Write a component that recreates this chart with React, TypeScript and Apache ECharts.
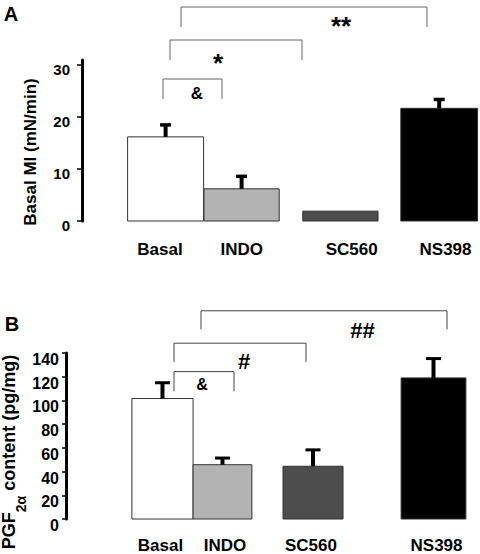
import React, { useEffect, useRef } from 'react';
import * as echarts from 'echarts';

// ---- data ----
const categories = ['Basal', 'INDO', 'SC560', 'NS398'];
const basalMI = [16.2, 6.2, 1.9, 21.7];
const basalMISem = [2.3, 2.4, 0, 1.7];
const pgfContent = [101.6, 45.8, 44.5, 119.0];
const pgfSem = [13.3, 5.6, 13.8, 16.3];
const ticksA = [0, 10, 20, 30];
const ticksB = [0, 20, 40, 60, 80, 100, 120, 140];
const sigLabelsA = ['**', '*', '&'];
const sigLabelsB = ['##', '#', '&'];

// ---- styles / layout ----
const FONT = '"Liberation Sans", Arial, Helvetica, sans-serif';
const barColors = ['#ffffff', '#b3b3b3', '#4d4d4d', '#000000'];

const layoutA = {
  grid: { left: 82, top: 60, width: 398, height: 161 },
  xMax: 5.237,
  yMax: 31,
  barX: [1.1, 2.1, 3.4, 4.7],
  barW: [1, 0.99, 0.99, 1.01],
  labelX: [1.026, 2.101, 3.549, 4.783],
  cap: { width: 11, stem: 4, thick: 3.5 },
  bracketColor: '#666',
  brackets: [
    { x1: 1.303, x2: 4.539, top: 41.2, bottom: 37.35, tx: 3.408, ty: 37.64, size: 26 },
    { x1: 1.158, x2: 2.895, top: 34.85, bottom: 31.0, tx: 1.79, ty: 30.5, size: 26 },
    { x1: 1.066, x2: 1.842, top: 27.34, bottom: 23.49, tx: 1.513, ty: 24.64, size: 17 },
  ],
};

const layoutB = {
  grid: { left: 66, top: 353, width: 414, height: 169 },
  xMax: 6.9,
  yMax: 140,
  barX: [1.608, 2.608, 4.117, 6.125],
  barW: [1.02, 0.98, 1.0, 1.08],
  labelX: [1.575, 2.65, 4.083, 6.175],
  cap: { width: 15, stem: 4, thick: 3 },
  bracketColor: '#444',
  brackets: [
    { x1: 2.25, x2: 6.35, top: 175.6, bottom: 159.9, tx: 4.942, ty: 159.1, size: 22 },
    { x1: 1.8, x2: 4.0, top: 148.3, bottom: 132.5, tx: 2.967, ty: 132.5, size: 22 },
    { x1: 1.8, x2: 2.8, top: 124.3, bottom: 107.7, tx: 2.267, ty: 113.5, size: 16 },
  ],
};

function nearestIndex(arr: number[], v: number) {
  let best = 0;
  for (let i = 1; i < arr.length; i++) {
    if (Math.abs(arr[i] - v) < Math.abs(arr[best] - v)) best = i;
  }
  return best;
}

function makeBarRender(layout: any) {
  return (params: any, api: any) => {
    const i = params.dataIndex;
    const x = api.value(0);
    const v = api.value(1);
    const e = api.value(2);
    const w = layout.barW[i];
    const tl = api.coord([x - w / 2, v]);
    const br = api.coord([x + w / 2, 0]);
    const children: any[] = [
      {
        type: 'rect',
        shape: { x: tl[0], y: tl[1], width: br[0] - tl[0], height: br[1] - tl[1] },
        style: { fill: barColors[i], stroke: '#333', lineWidth: 1 },
      },
    ];
    if (e > 0) {
      const top = api.coord([x, v + e]);
      children.push({
        type: 'line',
        shape: { x1: top[0], y1: tl[1], x2: top[0], y2: top[1] },
        style: { stroke: '#000', lineWidth: layout.cap.stem },
      });
      children.push({
        type: 'line',
        shape: {
          x1: top[0] - layout.cap.width / 2,
          y1: top[1],
          x2: top[0] + layout.cap.width / 2,
          y2: top[1],
        },
        style: { stroke: '#000', lineWidth: layout.cap.thick },
      });
    }
    return { type: 'group', children };
  };
}

function makeBracketRender(layout: any, labels: string[]) {
  return (params: any, api: any) => {
    const i = params.dataIndex;
    const b = layout.brackets[i];
    const p1 = api.coord([b.x1, b.bottom]);
    const p2 = api.coord([b.x1, b.top]);
    const p3 = api.coord([b.x2, b.top]);
    const p4 = api.coord([b.x2, b.bottom]);
    const t = api.coord([b.tx, b.ty]);
    return {
      type: 'group',
      children: [
        {
          type: 'polyline',
          shape: { points: [p1, p2, p3, p4] },
          style: { stroke: layout.bracketColor, lineWidth: 1, fill: null },
        },
        {
          type: 'text',
          x: t[0],
          y: t[1],
          style: {
            text: labels[i],
            font: `bold ${b.size}px ${FONT}`,
            fill: '#000',
            align: 'center',
            verticalAlign: 'middle',
            textAlign: 'center',
            textVerticalAlign: 'middle',
          },
        },
      ],
    };
  };
}

function xAxisFor(gridIndex: number, layout: any, margin: number) {
  return {
    gridIndex,
    type: 'value',
    min: 0,
    max: layout.xMax,
    axisLine: { show: false },
    axisTick: { show: false },
    splitLine: { show: false },
    axisLabel: {
      customValues: layout.labelX,
      formatter: (v: number) => categories[nearestIndex(layout.labelX, v)],
      fontSize: 17,
      fontWeight: 'bold',
      fontFamily: FONT,
      color: '#000',
      margin,
    },
  };
}

function yAxisFor(gridIndex: number, layout: any, ticks: number[], interval: number, opts: any) {
  return {
    gridIndex,
    type: 'value',
    min: 0,
    max: layout.yMax,
    interval,
    axisLine: { show: true, lineStyle: { color: '#000', width: 3 } },
    axisTick: {
      show: true,
      length: opts.tickLen,
      customValues: ticks,
      lineStyle: { color: '#000', width: 1.5 },
    },
    axisLabel: {
      customValues: ticks,
      fontSize: opts.fontSize,
      fontWeight: 'bold',
      fontFamily: FONT,
      color: '#000',
      margin: opts.margin,
      verticalAlign: 'top',
      lineHeight: opts.lineHeight,
    },
    splitLine: { show: false },
  };
}

function textEl(x: number, y: number, text: string, size: number, rotation = 0, rich?: any) {
  return {
    type: 'text',
    x,
    y,
    rotation,
    style: {
      text,
      font: `bold ${size}px ${FONT}`,
      fill: '#000',
      align: 'center',
      verticalAlign: 'middle',
      textAlign: 'center',
      textVerticalAlign: 'middle',
      ...(rich ? { rich } : {}),
    },
  };
}

export default function App() {
  const ref = useRef<HTMLDivElement>(null);
  useEffect(() => {
    if (!ref.current) return;
    const chart = echarts.init(ref.current, undefined, { renderer: 'svg' });
    const option: any = {
      animation: false,
      backgroundColor: '#ffffff',
      grid: [
        { ...layoutA.grid, containLabel: false },
        { ...layoutB.grid, containLabel: false },
      ],
      xAxis: [xAxisFor(0, layoutA, 20), xAxisFor(1, layoutB, 18)],
      yAxis: [
        yAxisFor(0, layoutA, ticksA, 10, { tickLen: 5, fontSize: 15, margin: 12, lineHeight: 8 }),
        yAxisFor(1, layoutB, ticksB, 20, { tickLen: 4, fontSize: 16, margin: 7, lineHeight: 13 }),
      ],
      series: [
        {
          type: 'custom',
          name: 'Basal MI',
          xAxisIndex: 0,
          yAxisIndex: 0,
          clip: false,
          encode: { x: 0, y: 1 },
          renderItem: makeBarRender(layoutA),
          data: categories.map((_, i) => [layoutA.barX[i], basalMI[i], basalMISem[i]]),
        },
        {
          type: 'custom',
          name: 'sigA',
          xAxisIndex: 0,
          yAxisIndex: 0,
          clip: false,
          encode: { x: 0, y: 1 },
          renderItem: makeBracketRender(layoutA, sigLabelsA),
          data: sigLabelsA.map((_, i) => [layoutA.brackets[i].x1, layoutA.brackets[i].top]),
        },
        {
          type: 'custom',
          name: 'PGF2a',
          xAxisIndex: 1,
          yAxisIndex: 1,
          clip: false,
          encode: { x: 0, y: 1 },
          renderItem: makeBarRender(layoutB),
          data: categories.map((_, i) => [layoutB.barX[i], pgfContent[i], pgfSem[i]]),
        },
        {
          type: 'custom',
          name: 'sigB',
          xAxisIndex: 1,
          yAxisIndex: 1,
          clip: false,
          encode: { x: 0, y: 1 },
          renderItem: makeBracketRender(layoutB, sigLabelsB),
          data: sigLabelsB.map((_, i) => [layoutB.brackets[i].x1, layoutB.brackets[i].top]),
        },
      ],
      graphic: [
        textEl(11, 14, 'A', 20),
        textEl(12, 324, 'B', 20),
        textEl(30, 152, 'Basal MI (mN/min)', 17, Math.PI / 2),
        textEl(9, 452, 'PGF{sub|2α} content (pg/mg)', 18, Math.PI / 2, {
          sub: { fontSize: 14, fontWeight: 'bold', fontFamily: FONT, padding: [24, 0, 0, 0] },
        }),
      ],
    };
    chart.setOption(option);
    return () => chart.dispose();
  }, []);
  return (
    <div
      ref={ref}
      style={{ position: 'absolute', left: 0, top: 0, width: 480, height: 554, background: '#fff' }}
    />
  );
}
